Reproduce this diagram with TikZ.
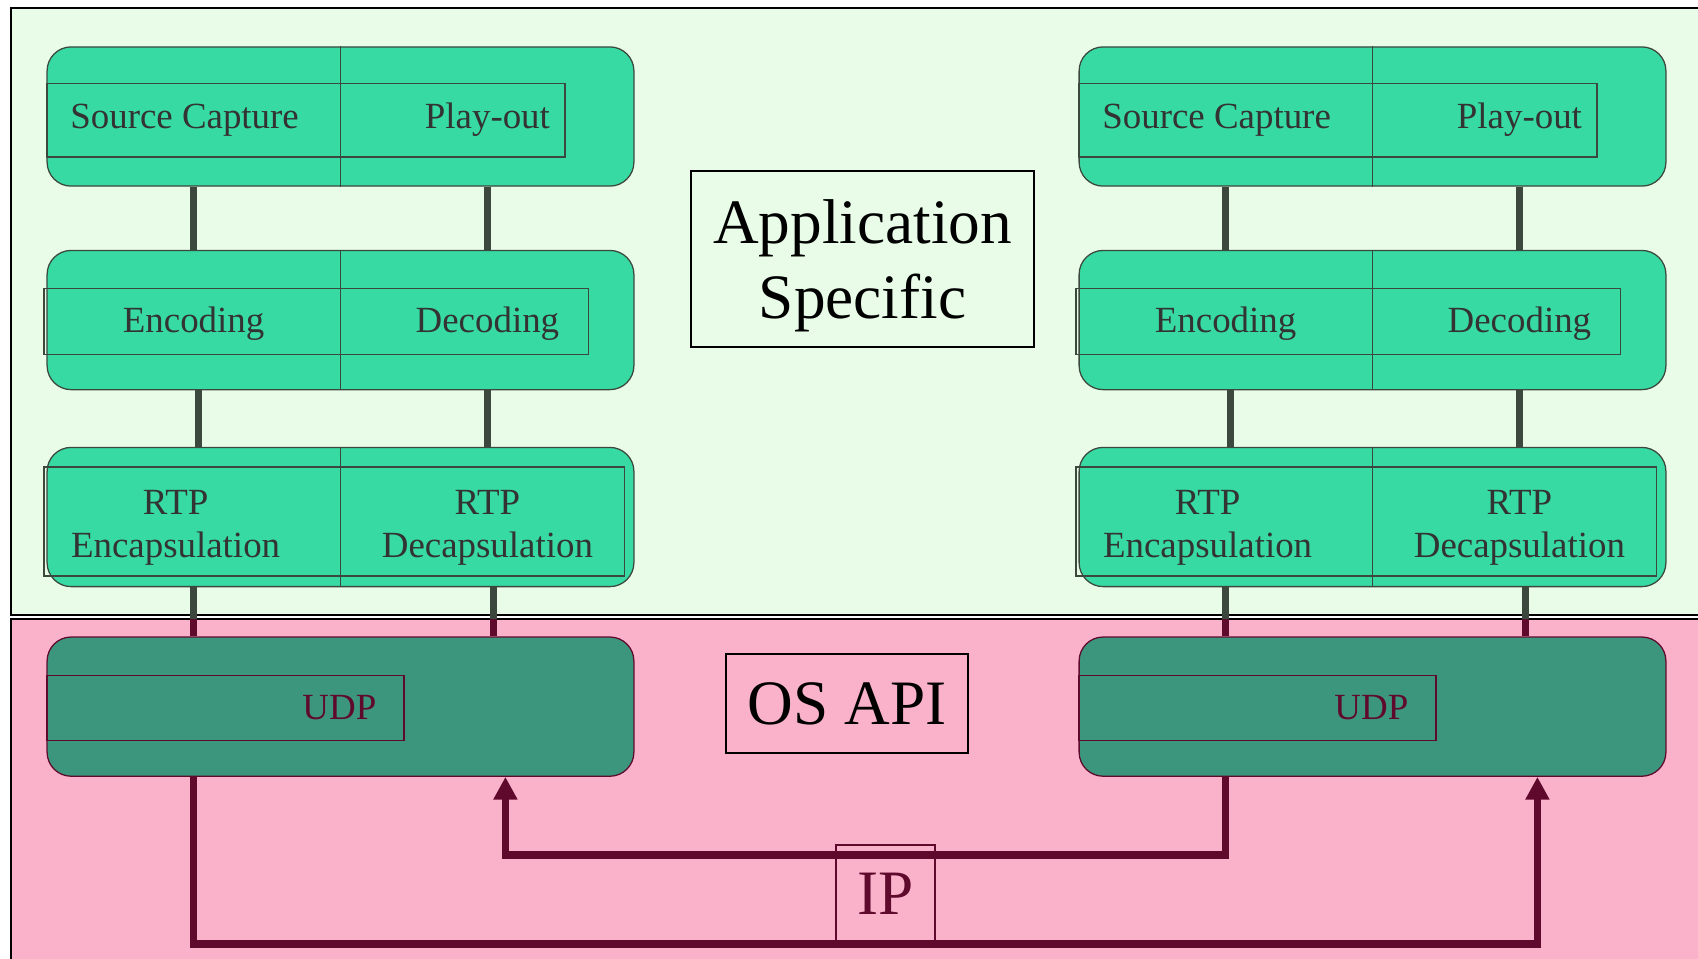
\documentclass[tikz,border=0pt]{standalone}
\usepackage{fontspec}
\setmainfont{Liberation Serif}
\usetikzlibrary{arrows.meta,positioning}
\definecolor{appgreen}{RGB}{232,252,232}
\definecolor{ospink}{RGB}{250,178,202}
\definecolor{layergreen}{RGB}{55,218,162}
\definecolor{udpteal}{RGB}{60,150,125}
\definecolor{linkgray}{RGB}{60,72,62}
\definecolor{ipmaroon}{RGB}{95,10,45}
\tikzstyle{layer} = [draw=linkgray, line width=0.6pt, fill=layergreen, rounded corners=0.4cm, minimum width=9.78cm, minimum height=2.32cm, inner sep=0pt]
\tikzstyle{udpbox} = [layer, draw=ipmaroon, fill=udpteal]
\tikzstyle{strip} = [draw=linkgray, line width=0.6pt, inner sep=0pt]
\tikzstyle{half} = [minimum width=4.89cm, minimum height=2.32cm, inner sep=0pt, align=center, text=black!80, font=\fontsize{17.5}{20.5}\selectfont]
\tikzstyle{link} = [linkgray, line width=3pt]
\tikzstyle{ipline} = [ipmaroon, line width=3.4pt, -{Triangle[length=0.38cm,width=0.38cm]}]
\tikzstyle{title} = [draw, line width=0.8pt, inner sep=0pt, align=center, font=\fontsize{30}{36}\selectfont]

\begin{document}
\begin{tikzpicture}
		\clip (0,0) rectangle (28.3,15.967);

		% define constants
		\def \xl {5.675}
		\def \xr {22.875}
		\def \ya {14.025}
		\def \yb {10.633}
		\def \yc {7.35}
		\def \yd {4.19}

		% Draw the panels
		\draw[fill=appgreen, line width=0.8pt] (0.183,5.717) rectangle (29,15.833);
		\draw[fill=ospink, line width=0.8pt] (0.183,-1) rectangle (29,5.65);
		\coordinate (pinktop) at (0,5.65);

		% Draw the two stacks
		\foreach \x/\c in {\xl/L,\xr/R} {
			\node[layer] (\c1) at (\x,\ya) {};
			\node[strip, minimum width=8.63cm, minimum height=1.23cm, anchor=west] at ([yshift=-0.06cm]\c1.west) {};
			\draw[linkgray] (\c1.north) -- (\c1.south);
			\node[half, anchor=west] (\c1a) at ([xshift=-0.15cm,yshift=-0.06cm]\c1.west) {Source Capture};
			\node[half, anchor=east] (\c1b) at ([yshift=-0.06cm]\c1.east) {Play-out};

			\node[layer] (\c2) at (\x,\yb) {};
			\node[strip, minimum width=9.07cm, minimum height=1.1cm, anchor=west] at ([xshift=-0.05cm,yshift=-0.02cm]\c2.west) {};
			\draw[linkgray] (\c2.north) -- (\c2.south);
			\node[half, anchor=west] (\c2a) at ([yshift=-0.06cm]\c2.west) {Encoding};
			\node[half, anchor=east] (\c2b) at ([yshift=-0.06cm]\c2.east) {Decoding};

			\node[layer] (\c3) at (\x,\yc) {};
			\node[strip, minimum width=9.67cm, minimum height=1.82cm, anchor=west] at ([xshift=-0.05cm,yshift=-0.075cm]\c3.west) {};
			\draw[linkgray] (\c3.north) -- (\c3.south);
			\node[half, anchor=west] (\c3a) at ([xshift=-0.3cm,yshift=-0.18cm]\c3.west) {RTP\\Encapsulation};
			\node[half, anchor=east] (\c3b) at ([yshift=-0.18cm]\c3.east) {RTP\\Decapsulation};

			\node[udpbox] (\c4) at (\x,\yd) {};
			\node[strip, draw=ipmaroon, minimum width=5.95cm, minimum height=1.08cm, anchor=west] (\c4s) at ([yshift=-0.02cm]\c4.west) {};
			\node[anchor=east, text=ipmaroon, font=\fontsize{17.5}{20.5}\selectfont] (\c4t) at ([xshift=-0.35cm]\c4s.east) {UDP};

			\draw[link] (\c1.south -| \c2a) -- (\c2.north -| \c2a);
			\draw[link] (\c1.south -| \c1b) -- (\c2.north -| \c1b);
			\draw[link] ([xshift=0.08cm]\c2.south -| \c2a) -- ([xshift=0.08cm]\c3.north -| \c2a);
			\draw[link] (\c2.south -| \c2b) -- (\c3.north -| \c2b);
			\draw[link] (\c3.south -| \c2a) -- (\c2a |- pinktop);
			\draw[link, ipmaroon] (\c2a |- pinktop) -- (\c4.north -| \c2a);
			\draw[link] ([xshift=0.1cm]\c3.south -| \c3b) -- ([xshift=0.1cm]\c3b |- pinktop);
			\draw[link, ipmaroon] ([xshift=0.1cm]\c3b |- pinktop) -- ([xshift=0.1cm]\c4.north -| \c3b);
		}

		% IP paths
		\coordinate (lowrun) at (0,0.233);
		\coordinate (highrun) at (0,1.717);
		\coordinate (Rin) at ([xshift=0.3cm]R4.south -| R3b);
		\coordinate (Lin) at ([xshift=0.3cm]L4.south -| L3b);
		\draw[ipline] (L4.south -| L2a) |- (Rin |- lowrun) -- (Rin);
		\draw[ipline] (R4.south -| R2a) |- (Lin |- highrun) -- (Lin);

		% labels
		\node[title, minimum width=5.72cm, minimum height=2.93cm, text depth=-0.2cm] (appspec) at (14.375,11.65) {Application\\Specific};
		\node[title, minimum width=4.03cm, minimum height=1.65cm] (osapi) at (14.117,4.242) {OS API};
		\node[title, draw=ipmaroon, text=ipmaroon, line width=0.6pt, minimum width=1.65cm, minimum height=1.62cm] (ip) at (14.758,1.075) {IP};
\end{tikzpicture}
\end{document}
